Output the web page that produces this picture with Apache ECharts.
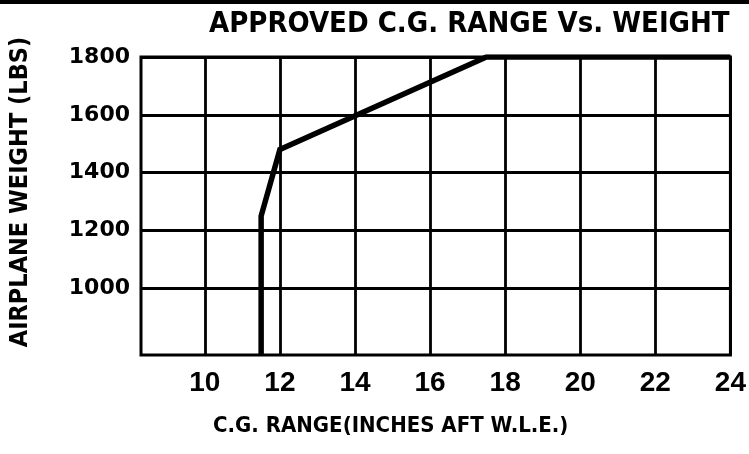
<!DOCTYPE html>
<html>
<head>
<meta charset="utf-8">
<script src="https://cdn.jsdelivr.net/npm/echarts@6/dist/echarts.min.js"></script>
<style>
html,body{margin:0;padding:0;background:#fff;}
#chart{width:749px;height:454px;}
</style>
</head>
<body>
<div id="chart"></div>
<script>
// Data
const cgRange = [11.5, 11.5, 12, 17.5, 24];
const weight = [770, 1250, 1480, 1800, 1800];
const xTicks = [10, 12, 14, 16, 18, 20, 22, 24];
const yTicks = [1000, 1200, 1400, 1600, 1800];
const titleText = 'APPROVED C.G. RANGE Vs. WEIGHT';
const xName = 'C.G. RANGE(INCHES AFT W.L.E.)';
const yName = 'AIRPLANE WEIGHT (LBS)';

const narrow = "'Liberation Sans Narrow','DejaVu Sans Condensed','Liberation Sans',sans-serif";
const chart = echarts.init(document.getElementById('chart'), null, {renderer: 'canvas'});
chart.setOption({
  animation: false,
  backgroundColor: '#fff',
  graphic: [{
    type: 'rect', left: 0, top: 0,
    shape: {width: 749, height: 4},
    style: {fill: '#000'}
  }],
  title: {
    text: titleText,
    left: 204, top: 5,
    textStyle: {fontFamily: narrow, fontWeight: 'bold', fontSize: 29, color: '#000'}
  },
  grid: {left: 138, right: 16, top: 57, bottom: 99, show: true, borderColor: '#000', borderWidth: 3, backgroundColor: 'transparent'},
  xAxis: {
    type: 'value', min: 8.3, max: 24,
    name: xName, nameLocation: 'middle', nameGap: 60,
    nameTextStyle: {fontFamily: narrow, fontWeight: 'bold', fontSize: 22, color: '#000', padding: [0, 90, 0, 0]},
    axisLine: {show: false},
    axisTick: {show: false, customValues: xTicks},
    axisLabel: {customValues: xTicks, color: '#000', fontFamily: "'Liberation Sans',sans-serif", fontWeight: 'bold', fontSize: 28, margin: 14},
    splitLine: {show: true, lineStyle: {color: '#000', width: 2.8}}
  },
  yAxis: {
    type: 'value', min: 770, max: 1800,
    name: yName, nameLocation: 'middle', nameRotate: 90, nameGap: 108,
    nameTextStyle: {fontFamily: narrow, fontWeight: 'bold', fontSize: 25, color: '#000', padding: [0, 0, 0, 28]},
    axisLine: {show: false},
    axisTick: {show: false, customValues: yTicks},
    axisLabel: {customValues: yTicks, formatter: v => String(v), color: '#000', fontFamily: "'DejaVu Sans',sans-serif", fontWeight: 'bold', fontSize: 22, margin: 11},
    splitLine: {show: true, lineStyle: {color: '#000', width: 2.8}}
  },
  series: [{
    type: 'line',
    data: cgRange.map((x, i) => [x, weight[i]]),
    symbol: 'none',
    lineStyle: {color: '#000', width: 5.5, join: 'miter'}
  }]
});
</script>
</body>
</html>
